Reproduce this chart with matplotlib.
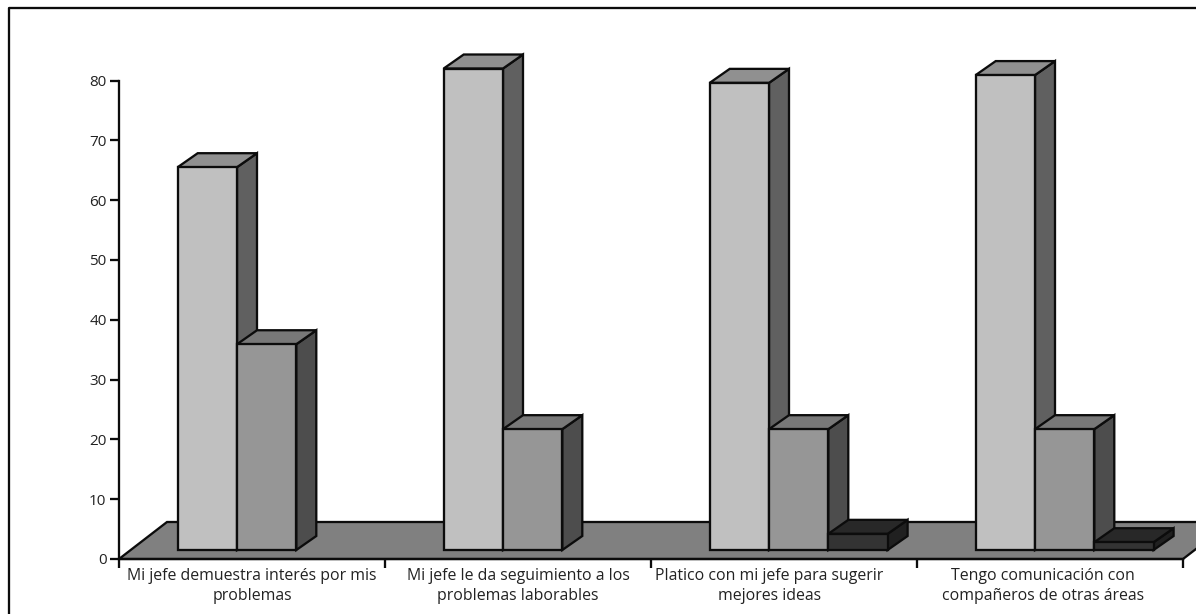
import matplotlib
matplotlib.use("Agg")
import matplotlib.pyplot as plt
from matplotlib.lines import Line2D
from matplotlib.patches import Polygon

categories = [
    "Mi jefe demuestra interés por mis\nproblemas",
    "Mi jefe le da seguimiento a los\nproblemas laborables",
    "Platico con mi jefe para sugerir\nmejores ideas",
    "Tengo comunicación con\ncompañeros de otras áreas",
]
series_a = [64.0, 80.5, 78.1, 79.4]
series_b = [34.4, 20.2, 20.2, 20.2]
series_c = [0, 0, 2.7, 1.3]
y_ticks = [0, 10, 20, 30, 40, 50, 60, 70, 80]
label_centres = [0.5, 1.5, 2.445, 3.475]

W, H = 1196, 614
AX_L, AX_R, AX_T, AX_B = 119.0, 1183.0, 80.5, 559.0

PX_X = (AX_R - AX_L) / 4
PX_Y = (AX_B - AX_T) / 80

BAR_W = 59.3 / PX_X
FIRST = 58.7 / PX_X
DX, DY = 20 / PX_X, 14 / PX_Y
LIFT = 9 / PX_Y
FLOOR_DX, FLOOR_DY = 48 / PX_X, 37 / PX_Y

# (front, top, side) shades per series
SHADES = [
    ("#c0c0c0", "#909090", "#606060"),
    ("#969696", "#787878", "#4d4d4d"),
    ("#333333", "#282828", "#202020"),
]
INK = "#0c0c0c"
LW = 1.65
FS = 11.4

plt.rcParams["font.family"] = ["Open Sans", "DejaVu Sans"]
fig = plt.figure(figsize=(W / 100, H / 100), dpi=100, facecolor="white")
ax = fig.add_axes([AX_L / W, 1 - AX_B / H, (AX_R - AX_L) / W, (AX_B - AX_T) / H])
ax.set_xlim(0, 4)
ax.set_ylim(0, 80)
ax.patch.set_visible(False)


def face(pts, color, z):
    ax.add_patch(Polygon(pts, closed=True, facecolor=color, edgecolor=INK,
                         linewidth=LW, joinstyle="miter", clip_on=False, zorder=z))


# Floor of the 3D plot, running off the right edge of the figure
face([(0, 0), (4, 0), (4 + FLOOR_DX, FLOOR_DY), (FLOOR_DX, FLOOR_DY)], "#808080", 1)

z = 2
for i in range(len(categories)):
    for j, values in enumerate((series_a, series_b, series_c)):
        v = values[i]
        if v <= 0:
            continue
        x0 = i + FIRST + j * BAR_W
        x1 = x0 + BAR_W
        y0, y1 = LIFT, LIFT + v
        front, top, side = SHADES[j]
        face([(x1, y0), (x1 + DX, y0 + DY), (x1 + DX, y1 + DY), (x1, y1)], side, z)
        face([(x0, y1), (x1, y1), (x1 + DX, y1 + DY), (x0 + DX, y1 + DY)], top, z)
        ax.bar(x0, v, width=BAR_W, bottom=LIFT, align="edge", color=front,
               edgecolor=INK, linewidth=LW, clip_on=False, zorder=z)
        z += 1

for s in ("top", "right"):
    ax.spines[s].set_visible(False)
for s in ("left", "bottom"):
    ax.spines[s].set_linewidth(LW)
    ax.spines[s].set_color(INK)
    ax.spines[s].set_zorder(50)

ax.set_yticks(y_ticks)
ax.set_xticks(range(5))
ax.set_xticklabels([])
ax.set_xticks(label_centres, labels=categories, minor=True)
ax.tick_params(axis="x", which="major", length=6.5, width=LW, color=INK)
ax.tick_params(axis="y", which="major", length=6.5, width=LW, color=INK,
               labelsize=11, labelcolor="#222222", pad=2.5)
ax.tick_params(axis="x", which="minor", length=0, labelsize=FS,
               labelcolor="#222222", pad=6.5)
for lab in ax.get_xticklabels(minor=True):
    lab.set_linespacing(1.33)
    lab.set_ha("center")

# Outer frame, cut by the figure edge at right and bottom
fig.add_artist(Line2D([8.5 / W, 8.5 / W, 1.0], [0, 1 - 8 / H, 1 - 8 / H],
                      transform=fig.transFigure, color=INK, linewidth=LW))

fig.savefig("out.png", dpi=100, facecolor="white")
